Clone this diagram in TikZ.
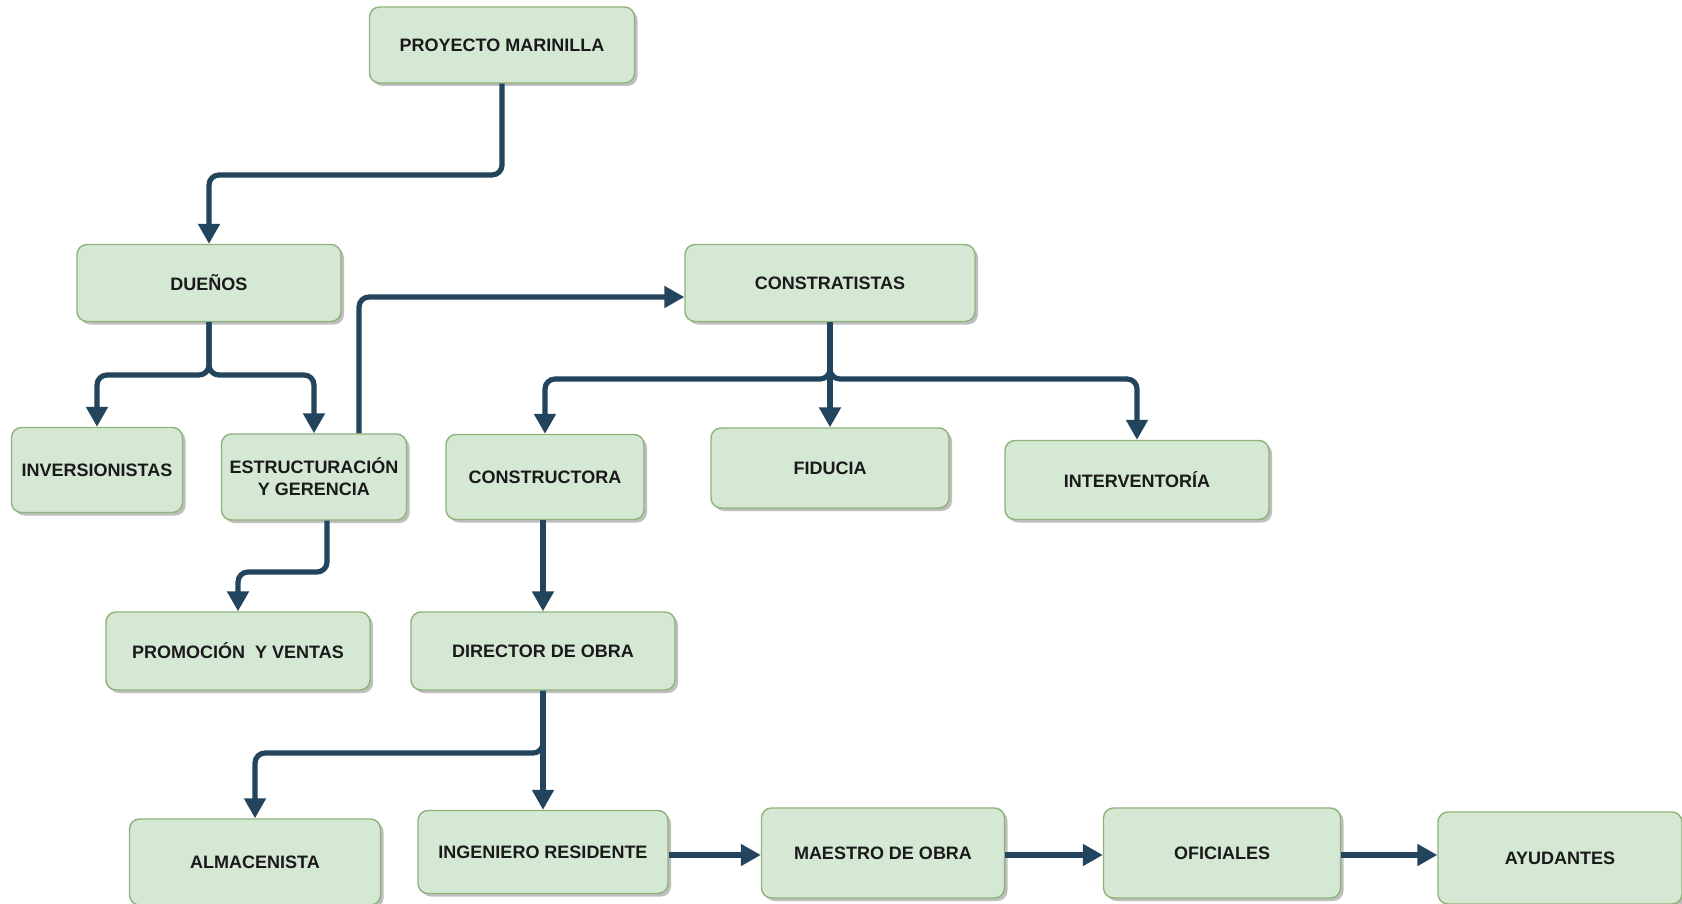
\documentclass[tikz,border=0pt]{standalone}
\usepackage{fontspec}
\setmainfont{Liberation Sans}
\usetikzlibrary{arrows.meta,shadows}
\definecolor{boxfill}{HTML}{D5E8D4}
\definecolor{boxline}{HTML}{8DB37A}
\definecolor{conncol}{HTML}{23445D}
\definecolor{txtcol}{HTML}{1A1A1A}
\tikzset{
  box/.style={draw=boxline, fill=boxfill, line width=0.7pt, rounded corners=5pt,
    inner sep=2pt, align=center, font=\fontsize{9}{11}\selectfont\bfseries, text=txtcol,
    drop shadow={shadow xshift=1.5pt, shadow yshift=-1.5pt, fill=black!45, opacity=0.55}},
  conn/.style={draw=conncol, line width=2.6pt, rounded corners=5pt,
    -{Triangle[width=10.5pt,length=10pt]}}
}
\begin{document}
\begin{tikzpicture}[x=0.5pt,y=-0.5pt]
\useasboundingbox (0,0) rectangle (1682,904);
\fill[white] (0,0) rectangle (1682,904);
% nodes
\node[box, minimum width=132.5pt, minimum height=38pt] (proj) at (502,45) {PROYECTO MARINILLA};
\node[box, minimum width=132pt, minimum height=38.5pt] (duenos) at (209,283) {DUEÑOS};
\node[box, minimum width=85.5pt, minimum height=42.5pt] (inv) at (97,470) {INVERSIONISTAS};
\node[box, minimum width=92.5pt, minimum height=43pt] (estr) at (314,477) {ESTRUCTURACIÓN\\Y GERENCIA};
\node[box, minimum width=145pt, minimum height=38.5pt] (contr) at (830,283) {CONSTRATISTAS};
\node[box, minimum width=99pt, minimum height=42.5pt] (constr) at (545,477) {CONSTRUCTORA};
\node[box, minimum width=119pt, minimum height=40pt] (fid) at (830,468) {FIDUCIA};
\node[box, minimum width=132pt, minimum height=39.5pt] (interv) at (1137,480) {INTERVENTORÍA};
\node[box, minimum width=132pt, minimum height=39pt] (promo) at (238,651) {PROMOCIÓN\ \ Y VENTAS};
\node[box, minimum width=132pt, minimum height=39pt] (dir) at (543,651) {DIRECTOR DE OBRA};
\node[box, minimum width=125.5pt, minimum height=43pt] (alm) at (255,862) {ALMACENISTA};
\node[box, minimum width=125pt, minimum height=41.5pt] (ing) at (543,852) {INGENIERO RESIDENTE};
\node[box, minimum width=121.5pt, minimum height=45pt] (mae) at (883,853) {MAESTRO DE OBRA};
\node[box, minimum width=118.5pt, minimum height=45pt] (ofi) at (1222,853) {OFICIALES};
\node[box, minimum width=122pt, minimum height=46pt] (ayu) at (1560,858) {AYUDANTES};
% connectors
\draw[conn] (proj.south) -- (proj.south |- 0,175) -| (duenos.north);
\draw[conn] (duenos.south) -- (duenos.south |- 0,375) -| (inv.north);
\draw[conn] (duenos.south) -- (duenos.south |- 0,375) -| (estr.north);
\draw[conn] (estr.north -| 359,0) |- (contr.west |- 0,297);
\draw[conn] (contr.south) -- (contr.south |- 0,379) -| (constr.north);
\draw[conn] (contr.south) -- (fid.north);
\draw[conn] (contr.south) -- (contr.south |- 0,379) -| (interv.north);
\draw[conn] (estr.south -| 327,0) -- (327,572) -| (promo.north);
\draw[conn] (dir.north |- constr.south) -- (dir.north);
\draw[conn] (dir.south) -- (dir.south |- 0,753) -| (alm.north);
\draw[conn] (dir.south) -- (ing.north);
\draw[conn] (ing.east |- 0,855) -- (mae.west |- 0,855);
\draw[conn] (mae.east |- 0,855) -- (ofi.west |- 0,855);
\draw[conn] (ofi.east |- 0,855) -- (ayu.west |- 0,855);
\end{tikzpicture}
\end{document}
